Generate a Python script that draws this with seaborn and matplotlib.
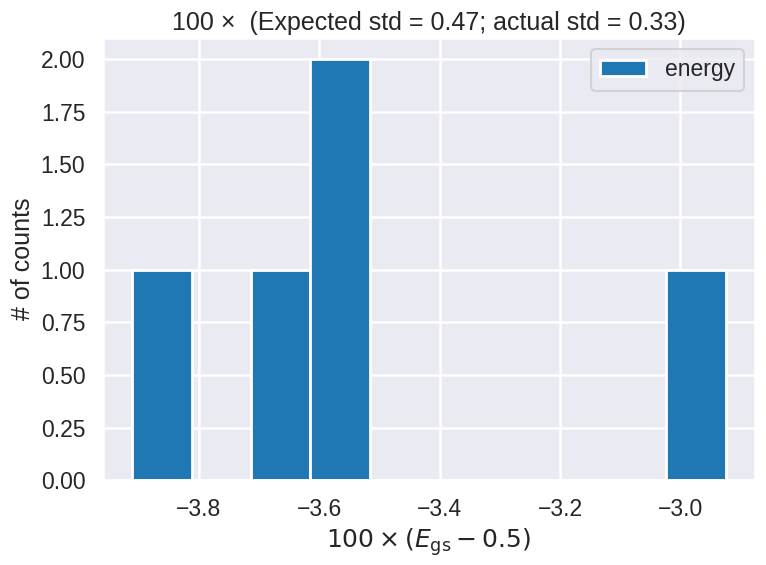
import numpy as np
import pandas as pd
import matplotlib
matplotlib.use('Agg')
import matplotlib.pyplot as plt
import seaborn as sns

# energies, 100 x (E_gs - 0.5)
energy = [-3.910, -3.680, -3.590, -3.550, -2.925]
expected_std = 0.47
actual_std = 0.33

sns.set_theme(context='talk', style='darkgrid')
plt.rcParams['font.family'] = ['Liberation Sans', 'DejaVu Sans']
plt.rcParams['grid.linewidth'] = 1.8

df = pd.DataFrame({'energy': energy})

fig, ax = plt.subplots(figsize=(7.66, 5.65), dpi=100)
sns.histplot(data=df, x='energy', bins=10, color='#1f77b4', alpha=1,
             edgecolor='white', linewidth=2, label='energy', ax=ax)
ax.set_title(f'100 \u00d7  (Expected std = {expected_std:.2f}; actual std = {actual_std:.2f})')
ax.set_xlabel(r'$100 \times (E_{\mathrm{gs}} - 0.5)$')
ax.set_ylabel('# of counts')
ax.yaxis.set_major_formatter(matplotlib.ticker.FormatStrFormatter('%.2f'))
ax.legend(loc='upper right')
fig.subplots_adjust(left=0.134, right=0.986, top=0.933, bottom=0.150)
plt.savefig('out.png', dpi=100)
plt.close()
